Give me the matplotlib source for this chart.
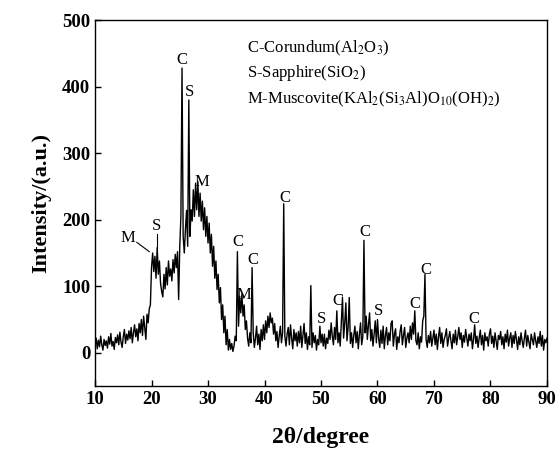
import numpy as np
import matplotlib
matplotlib.use('Agg')
import matplotlib.pyplot as plt

plt.rcParams['font.family'] = ['Liberation Serif', 'DejaVu Serif']
plt.rcParams['mathtext.fontset'] = 'stix'

# 2theta grid, 0.2 degree step from 10 to 90
two_theta = np.round(np.linspace(10, 90, 401), 1)

# intensity, one row per 2 degrees
intensity = [
    14, 22, 6, 19, 9, 25, 12, 4, 20, 11,          # 10
    18, 7, 24, 13, 29, 10, 17, 5, 23, 15,         # 12
    27, 12, 31, 16, 8, 24, 35, 14, 28, 19,        # 14
    33, 21, 38, 15, 30, 42, 24, 36, 18, 44,       # 16
    30, 50, 26, 55, 38, 20, 58, 45, 66, 72,       # 18
    128, 150, 122, 145, 112, 158, 118, 138, 104, 92,   # 20
    84, 118, 96, 128, 102, 138, 115, 126, 108, 140,    # 22
    120, 148, 128, 152, 80, 160, 205, 428, 175, 150,   # 24
    185, 214, 160, 380, 175, 215, 198, 245, 205, 255,  # 26
    215, 258, 205, 240, 198, 228, 185, 218, 175, 205,  # 28
    165, 195, 150, 178, 130, 160, 112, 138, 95, 118,   # 30
    75, 98, 50, 72, 30, 55, 12, 35, 4, 20,        # 32
    5, 14, 2, 10, 25, 18, 152, 40, 85, 60,        # 34
    88, 55, 72, 35, 48, 22, 10, 30, 15, 128,      # 36
    30, 8, 22, 40, 12, 28, 5, 35, 18, 42,         # 38
    20, 48, 30, 55, 38, 60, 45, 52, 28, 44,       # 40
    18, 32, 8, 25, 40, 15, 30, 224, 25, 10,       # 42
    28, 38, 12, 42, 22, 6, 35, 18, 30, 10,        # 44
    32, 15, 40, 8, 26, 44, 14, 30, 5, 24,         # 46
    12, 101, 8, 30, 15, 26, 4, 20, 12, 40,        # 48
    15, 28, 10, 28, 6, 22, 14, 34, 20, 45,        # 50
    25, 12, 38, 20, 63, 15, 30, 10, 48, 83,       # 52
    22, 45, 75, 18, 38, 83, 14, 30, 8, 26,        # 54
    40, 15, 32, 6, 28, 45, 12, 24, 169, 30,       # 56
    55, 20, 42, 60, 18, 35, 10, 28, 48, 15,       # 58
    50, 22, 8, 34, 14, 40, 6, 26, 38, 12,         # 60
    30, 18, 44, 48, 10, 28, 36, 5, 24, 15,        # 62
    32, 42, 12, 26, 38, 8, 22, 30, 15, 40,        # 64
    20, 45, 28, 63, 18, 12, 30, 6, 24, 16,        # 66
    48, 55, 118, 20, 8, 26, 15, 32, 10, 22,       # 68
    34, 12, 28, 5, 24, 38, 14, 30, 8, 20,         # 70
    26, 36, 10, 22, 32, 18, 6, 28, 15, 34,        # 72
    12, 24, 38, 20, 30, 8, 26, 16, 35, 22,        # 74
    10, 28, 18, 30, 6, 20, 42, 14, 25, 8,         # 76
    22, 34, 12, 26, 4, 30, 18, 24, 10, 28,        # 78
    36, 14, 25, 8, 30, 18, 5, 26, 20, 32,         # 80
    12, 24, 6, 28, 16, 34, 10, 22, 30, 8,         # 82
    26, 14, 32, 20, 5, 24, 12, 30, 18, 8,         # 84
    22, 34, 10, 26, 16, 6, 28, 20, 12, 30,        # 86
    18, 8, 24, 14, 32, 10, 26, 4, 20, 15,         # 88
    22,
]

# phase marks above the peaks
mark_text = ['M', 'S', 'C', 'S', 'M', 'C', 'M', 'C', 'C', 'S', 'C', 'C', 'S', 'C', 'C', 'C']
mark_x = [15.8, 20.9, 25.4, 26.7, 28.9, 35.3, 36.4, 38.0, 43.6, 50.1, 53.0, 57.8, 60.1, 66.6, 68.6, 77.1]
mark_y = [172, 190, 440, 392, 257, 166, 87, 140, 233, 51, 78, 181, 63, 74, 125, 51]

legend_lines = [r'C-Corundum(Al$_2$O$_3$)',
                r'S-Sapphire(SiO$_2$)',
                r'M-Muscovite(KAl$_2$(Si$_3$Al)O$_{10}$(OH)$_2$)']
legend_y = [458, 420, 381]

fig = plt.figure(figsize=(5.59, 4.59), dpi=100)
ax = fig.add_axes([0.170, 0.159, 0.8085, 0.797])

ax.plot(two_theta, intensity, color='black', lw=1.0)

for t, x, y in zip(mark_text, mark_x, mark_y):
    ax.text(x, y, t, ha='center', va='center', fontsize=12)
# leader lines for the two small marks near 20 degrees
ax.plot([17.4, 19.6], [166, 152], color='black', lw=0.8)
ax.plot([21.0, 21.0], [179, 157], color='black', lw=0.8)

for s, y in zip(legend_lines, legend_y):
    ax.text(36.9, y, s, ha='left', va='center', fontsize=12)

ax.set_xlim(10, 90)
ax.set_ylim(-50, 500)
ax.set_xticks(range(10, 91, 10))
ax.set_yticks(range(0, 501, 100))
ax.tick_params(direction='in', length=4.5, width=1.0, labelsize=13.5)
for lab in ax.get_xticklabels() + ax.get_yticklabels():
    lab.set_fontweight('bold')
for sp in ax.spines.values():
    sp.set_linewidth(1.0)

ax.set_xlabel('2θ/degree', fontsize=17, fontweight='bold', labelpad=14)
ax.set_ylabel('Intensity/(a.u.)', fontsize=16, fontweight='bold', labelpad=8)

fig.savefig('out.png', dpi=100)
